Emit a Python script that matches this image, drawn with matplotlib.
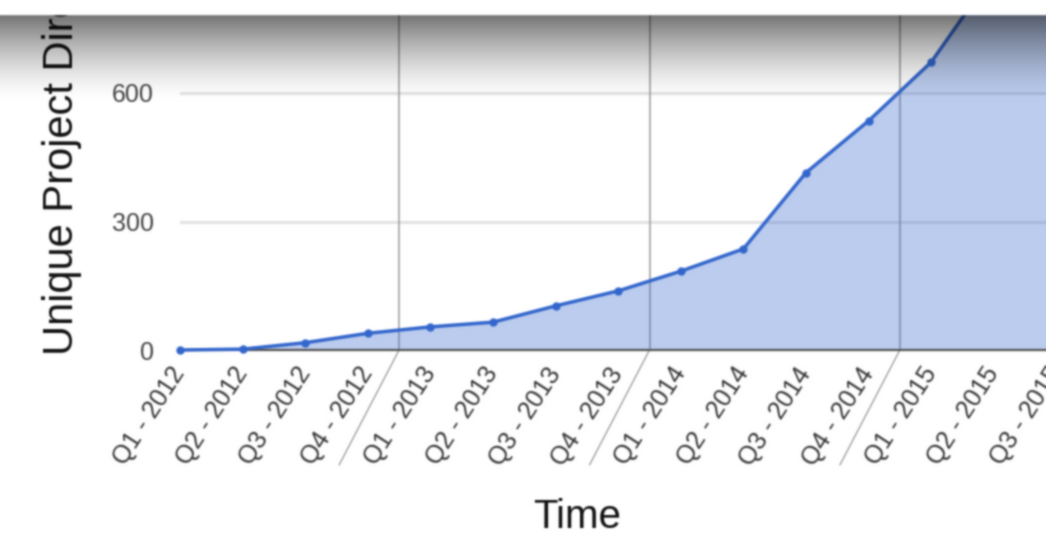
import numpy as np
import matplotlib
matplotlib.use("Agg")
import matplotlib.pyplot as plt
from matplotlib.patches import Rectangle

plt.rcParams['font.family'] = ['Liberation Sans', 'DejaVu Sans']

# quarterly counts of unique project directories
quarters = ['Q1 - 2012', 'Q2 - 2012', 'Q3 - 2012', 'Q4 - 2012',
            'Q1 - 2013', 'Q2 - 2013', 'Q3 - 2013', 'Q4 - 2013',
            'Q1 - 2014', 'Q2 - 2014', 'Q3 - 2014', 'Q4 - 2014',
            'Q1 - 2015', 'Q2 - 2015', 'Q3 - 2015']
directories = [0, 2, 17, 39, 54, 65, 103, 138, 184, 236, 414, 535, 672, 880, 1100]
year_breaks = [3.5, 7.5, 11.5]
y_ticks = [0, 300, 600]

W, H = 1046, 540
fig = plt.figure(figsize=(W / 100, H / 100), dpi=100)
fig.patch.set_facecolor('white')

# axes runs past the right edge of the canvas
left_px, right_px, top_px, base_px = 180, 1100, 14, 350
ax = fig.add_axes([left_px / W, 1 - base_px / H,
                   (right_px - left_px) / W, (base_px - top_px) / H])
step = 62.6
ax.set_xlim(0, (right_px - left_px) / step)
ax.set_ylim(0, (base_px - top_px) / 128.5 * 300)

x = np.arange(len(quarters))
y = np.array(directories)

for sp in ax.spines.values():
    sp.set_visible(False)

ax.set_yticks(y_ticks)
ax.set_yticklabels([str(v) for v in y_ticks])
ax.yaxis.grid(True, color='#e3e3e3', lw=2.2, zorder=0)
ax.set_axisbelow(True)
for xb in year_breaks:
    ax.axvline(xb, color='#9a9a9a', lw=1.1, zorder=1)
    ax.annotate('', xy=(xb, 0), xytext=(-60, -115), textcoords='offset pixels',
                arrowprops=dict(arrowstyle='-', color='#8a8a8a', lw=0.8,
                                shrinkA=0, shrinkB=0),
                annotation_clip=False)

ax.fill_between(x, 0, y, color='#3366cc', alpha=0.33, lw=0, zorder=2)
ax.plot(x, y, color='#3366cc', lw=2.5, marker='o', ms=5, zorder=4, clip_on=False)
ax.axhline(0, color='#555555', lw=1.6, zorder=3, clip_on=False)

ax.tick_params(axis='both', length=0)
ax.tick_params(axis='y', pad=19, labelsize=18, labelcolor='#444444')
ax.set_xticks(x)
ax.set_xticklabels(quarters, rotation=57, ha='right', va='center',
                   rotation_mode='anchor', fontsize=18, color='#333333')
ax.tick_params(axis='x', pad=14)

fig.text(62 / W, 1 - 355 / H, 'Unique Project Directories', rotation=90,
         ha='center', va='bottom', fontsize=30, color='#111111')
fig.text(577 / W, 1 - 517 / H, 'Time', ha='center', va='center',
         fontsize=29, color='#111111')

# dark fade across the top band
shade_top, shade_bot = 14, 102
sh = fig.add_axes([0, 1 - shade_bot / H, 1, (shade_bot - shade_top) / H], zorder=5)
t = np.linspace(0, 1, 200)
grad = np.zeros((200, 1, 4))
grad[:, 0, 3] = 0.56 * (1 - t) ** 1.5
sh.imshow(grad, aspect='auto', extent=[0, 1, 0, 1], interpolation='bilinear')
sh.set_axis_off()

fig.add_artist(Rectangle((0, 1 - shade_top / H), 1, shade_top / H,
                         transform=fig.transFigure, color='white', zorder=10))

# soften the rendered image slightly
fig.canvas.draw()
img = np.asarray(fig.canvas.buffer_rgba())[..., :3].astype(float) / 255
k = np.exp(-0.5 * (np.arange(-3, 4) / 0.9) ** 2)
k /= k.sum()
pad = np.pad(img, ((3, 3), (3, 3), (0, 0)), mode='edge')
tmp = sum(k[i] * pad[:, i:i + img.shape[1]] for i in range(7))
img = sum(k[i] * tmp[i:i + img.shape[0]] for i in range(7))
plt.imsave('out.png', np.clip(img, 0, 1))
